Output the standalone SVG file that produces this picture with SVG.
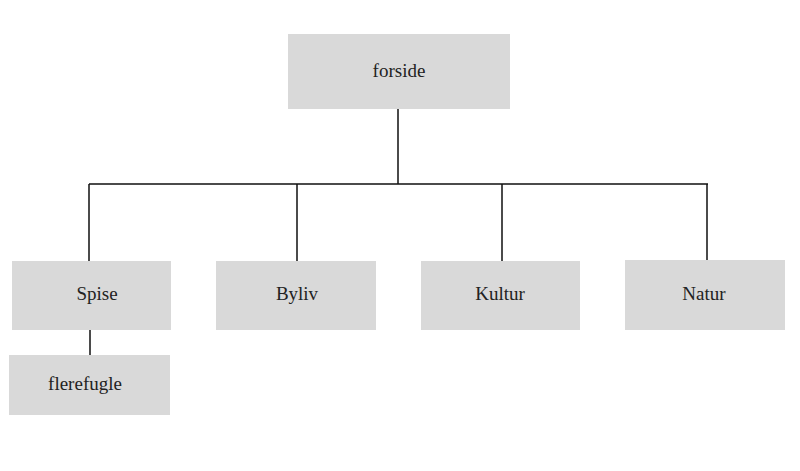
<svg xmlns="http://www.w3.org/2000/svg" width="800" height="471" viewBox="0 0 800 471">
<style>
.box{fill:#d9d9d9}
.lbl{font-family:"Liberation Serif","DejaVu Serif",serif;font-size:19px;fill:#222;text-anchor:middle;dominant-baseline:central}
.ln{stroke:#111;stroke-width:1.5;fill:none}
</style>
<rect width="800" height="471" fill="#ffffff"/>
<g id="connectors">
<path class="ln" d="M398,109 V184 M89,184 H708 M89,184 V261 M297,184 V261 M502,184 V261 M707,184 V261 M90,327 V355"/>
</g>
<g id="forside"><rect class="box" x="288" y="34" width="222" height="75"/><text class="lbl" x="399" y="70">forside</text></g>
<g id="spise"><rect class="box" x="12" y="261" width="159" height="69"/><text class="lbl" x="97" y="293">Spise</text></g>
<g id="flerefugle"><rect class="box" x="9" y="355" width="161" height="60"/><text class="lbl" x="85" y="383">flerefugle</text></g>
<g id="byliv"><rect class="box" x="216" y="261" width="160" height="69"/><text class="lbl" x="297" y="293">Byliv</text></g>
<g id="kultur"><rect class="box" x="421" y="261" width="159" height="69"/><text class="lbl" x="500" y="293">Kultur</text></g>
<g id="natur"><rect class="box" x="625" y="260" width="160" height="70"/><text class="lbl" x="704" y="293">Natur</text></g>
</svg>
